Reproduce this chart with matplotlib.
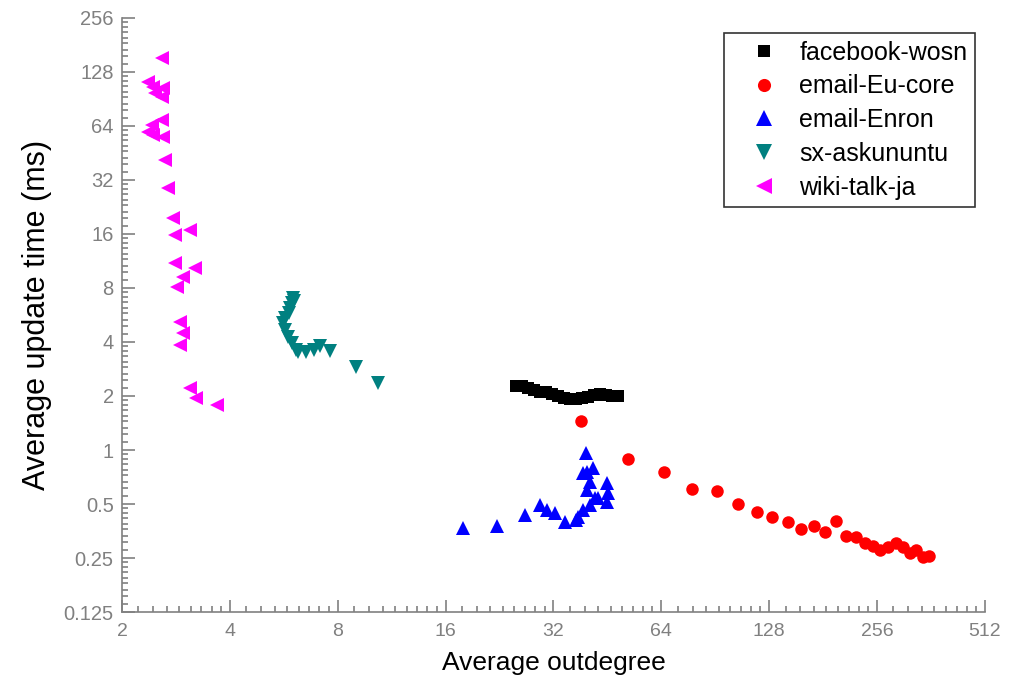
import matplotlib
matplotlib.use("Agg")
import matplotlib.pyplot as plt
from matplotlib.ticker import FixedLocator, FixedFormatter, NullFormatter
import numpy as np

plt.rcParams['font.family'] = ['Liberation Sans', 'DejaVu Sans']

# ---- data ----
fb_x = [25.1, 26.1, 27.2, 28.2, 29.3, 30.5, 31.7, 32.9, 34.2, 35.6, 37.0, 38.4,
        39.9, 41.5, 43.1, 44.8, 46.6, 48.4]
fb_y = [2.27, 2.27, 2.22, 2.16, 2.11, 2.11, 2.05, 2.00, 1.95, 1.92, 1.92, 1.95,
        1.97, 2.03, 2.05, 2.03, 2.00, 2.00]

eu_x = [38.3, 51.7, 65.0, 78.0, 91.3, 104.8, 118.0, 130.4, 144.0, 156.5, 170.5,
        182.9, 196.3, 209.4, 222.9, 236.6, 249.5, 261.6, 274.8, 290.0, 302.5,
        315.8, 329.7, 344.0, 357.6]
eu_y = [1.457, 0.891, 0.757, 0.606, 0.591, 0.498, 0.453, 0.421, 0.398, 0.363,
        0.378, 0.350, 0.403, 0.331, 0.329, 0.302, 0.291, 0.277, 0.287, 0.302,
        0.289, 0.266, 0.277, 0.254, 0.256]

enron_x = [17.9, 22.2, 26.6, 29.3, 30.6, 32.3, 34.4, 37.1, 37.5, 38.7, 40.4,
           39.4, 39.6, 41.3, 38.7, 40.4, 39.6, 45.0, 45.5, 42.6, 45.0, 41.8]
enron_y = [0.368, 0.377, 0.434, 0.494, 0.463, 0.444, 0.398, 0.407, 0.425, 0.463,
           0.494, 0.966, 0.757, 0.791, 0.742, 0.666, 0.598, 0.652, 0.574, 0.538,
           0.515, 0.540]

sx_x = [6.00, 6.04, 5.96, 5.88, 5.85, 5.70, 5.63, 5.70, 5.81, 5.96, 6.12, 6.19,
        6.52, 6.86, 7.13, 7.61, 8.99, 10.36]
sx_y = [7.04, 6.80, 6.60, 6.19, 5.80, 5.44, 5.10, 4.67, 4.27, 3.95, 3.61, 3.52,
        3.52, 3.60, 3.80, 3.55, 2.90, 2.36]

wiki_x = [2.58, 2.368, 2.445, 2.61, 2.472, 2.58, 2.58, 2.42, 2.368, 2.61, 2.445,
          2.636, 2.69, 2.77, 2.81, 3.095, 2.81, 3.197, 2.965, 2.854, 2.90, 2.965,
          2.90, 3.095, 3.217, 3.675]
wiki_y = [152.6, 113, 106, 104, 97.4, 93.2, 69.1, 64.8, 59.5, 55.8, 57.0,
          41.4, 28.8, 19.6, 15.8, 16.8, 11.0, 10.3, 9.25, 8.13, 5.19, 4.47,
          3.85, 2.21, 1.94, 1.78]

x_ticks = [2, 4, 8, 16, 32, 64, 128, 256, 512]
x_labels = ['2', '4', '8', '16', '32', '64', '128', '256', '512']
y_ticks = [0.125, 0.25, 0.5, 1, 2, 4, 8, 16, 32, 64, 128, 256]
y_labels = ['0.125', '0.25', '0.5', '1', '2', '4', '8', '16', '32', '64', '128', '256']

# ---- figure ----
fig = plt.figure(figsize=(10.15, 6.91), dpi=100)
ax = fig.add_axes([0.1202, 0.1143, 0.8502, 0.8597])
ax.set_xscale('log', base=2)
ax.set_yscale('log', base=2)
ax.set_xlim(2, 512)
ax.set_ylim(0.125, 256)

ax.plot(fb_x, fb_y, 's', color='black', ms=8, mew=0, label='facebook-wosn')
ax.plot(eu_x, eu_y, 'o', color='#ff0000', ms=9, mew=0, label='email-Eu-core')
ax.plot(enron_x, enron_y, '^', color='#0000ff', ms=10.5, mew=0, label='email-Enron')
ax.plot(sx_x, sx_y, 'v', color='#008080', ms=10.5, mew=0, label='sx-askununtu')
ax.plot(wiki_x, wiki_y, '<', color='#ff00ff', ms=10.5, mew=0, label='wiki-talk-ja')

tick_gray = '#808080'
ax.xaxis.set_major_locator(FixedLocator(x_ticks))
ax.xaxis.set_major_formatter(FixedFormatter(x_labels))
ax.yaxis.set_major_locator(FixedLocator(y_ticks))
ax.yaxis.set_major_formatter(FixedFormatter(y_labels))
xm = [b * (1 + k / 9) for b in x_ticks[:-1] for k in range(1, 9)]
ym = [b * (1 + k / 9) for b in y_ticks[:-1] for k in range(1, 9)]
ax.xaxis.set_minor_locator(FixedLocator(xm))
ax.yaxis.set_minor_locator(FixedLocator(ym))
ax.xaxis.set_minor_formatter(NullFormatter())
ax.yaxis.set_minor_formatter(NullFormatter())

ax.tick_params(which='both', direction='in', color=tick_gray, width=1.2,
               labelcolor=tick_gray, top=False, right=False)
ax.tick_params(which='major', length=9)
ax.tick_params(which='minor', length=4.5)
ax.tick_params(axis='x', pad=8, labelsize=14)
ax.tick_params(axis='y', pad=6, labelsize=14.5)

for s in ['top', 'right']:
    ax.spines[s].set_visible(False)
for s in ['left', 'bottom']:
    ax.spines[s].set_color(tick_gray)
    ax.spines[s].set_linewidth(1.2)

ax.set_xlabel('Average outdegree', fontsize=19, labelpad=8)
ax.set_ylabel('Average update time (ms)', fontsize=22, labelpad=8)

leg = ax.legend(loc='upper right', bbox_to_anchor=(975 / 1015, 1 - 33 / 691),
                bbox_transform=fig.transFigure, borderaxespad=0, fontsize=18,
                frameon=True, fancybox=False, edgecolor='black',
                handletextpad=0.1, labelspacing=0.39, borderpad=0.3,
                handlelength=2.6, markerscale=1.05)
leg.get_frame().set_linewidth(1.2)

fig.savefig('out.png', dpi=100)
